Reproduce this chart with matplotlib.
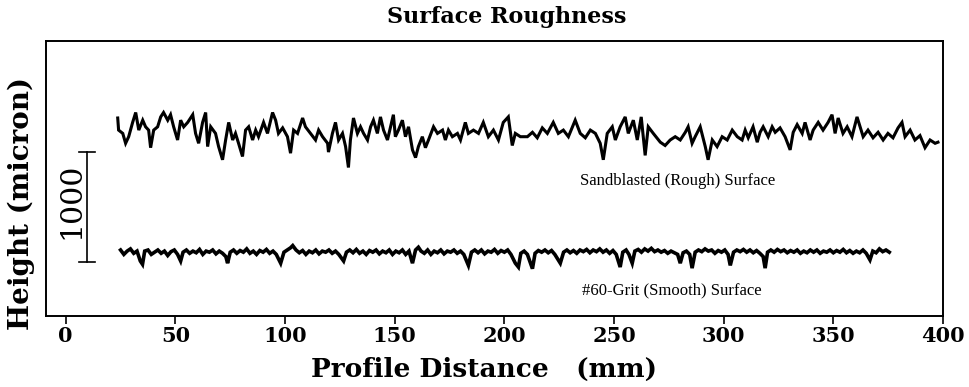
import matplotlib
matplotlib.use("Agg")
import matplotlib.pyplot as plt

# profile distance (mm) and height (micron)
rough_x = [23.7, 24.1, 26.0, 27.3, 28.7, 30.5, 31.9, 33.3, 35.1, 36.4, 37.8, 38.7, 40.1, 41.9, 43.3,
           44.6, 46.5, 47.8, 49.2, 51.0, 52.4, 53.8, 55.6, 57.9, 59.2, 60.6, 62.4, 63.8, 64.7, 66.1,
           68.3, 69.7, 71.5, 72.9, 74.3, 76.1, 77.4, 78.8, 80.6, 82.0, 83.4, 85.2, 86.6, 87.9, 90.2,
           92.0, 94.3, 95.7, 97.0, 98.9, 101.1, 102.5, 103.9, 105.7, 108.0, 109.3, 111.6, 113.9, 115.3,
           117.1, 119.4, 119.8, 121.6, 123.0, 124.4, 126.2, 127.6, 128.9, 129.8, 131.2, 133.0, 134.4,
           135.8, 137.6, 139.0, 140.3, 142.1, 143.5, 144.9, 146.7, 148.1, 149.4, 150.3, 151.7, 153.5,
           154.9, 156.3, 158.1, 159.5, 160.8, 162.6, 164.0, 165.4, 167.7, 169.5, 171.8, 173.1, 174.5,
           176.3, 178.6, 180.0, 182.2, 183.6, 185.9, 188.2, 190.4, 192.7, 195.0, 197.3, 199.5, 201.8,
           203.6, 205.0, 207.3, 210.5, 212.8, 215.0, 217.3, 219.6, 222.3, 224.6, 226.9, 229.2, 232.3,
           234.6, 236.9, 239.2, 241.5, 243.7, 245.1, 246.9, 249.2, 250.6, 252.8, 255.1, 256.5, 258.8,
           260.6, 262.4, 264.2, 265.6, 267.9, 271.1, 273.3, 275.6, 277.9, 280.2, 282.5, 283.8, 285.6,
           287.0, 289.3, 291.6, 292.9, 294.8, 297.0, 299.3, 301.6, 303.9, 306.2, 308.4, 309.8, 311.2,
           313.4, 315.3, 316.6, 318.0, 320.3, 322.1, 323.5, 325.7, 328.0, 330.3, 331.7, 333.5, 335.8,
           337.1, 339.4, 340.8, 343.1, 345.3, 347.6, 349.4, 350.8, 352.2, 354.4, 356.3, 358.5, 360.8,
           362.2, 363.6, 365.8, 368.1, 370.4, 372.7, 374.9, 377.2, 379.5, 381.3, 382.7, 385.0, 387.2,
           389.5, 391.8, 394.1, 396.4, 397.7]
rough_y = [1800, 1690, 1660, 1570, 1630, 1760, 1850, 1690, 1780, 1720, 1690, 1530, 1690, 1720, 1810,
           1850, 1780, 1830, 1720, 1600, 1780, 1720, 1760, 1830, 1660, 1570, 1760, 1850, 1540, 1720,
           1660, 1540, 1420, 1600, 1760, 1600, 1660, 1570, 1450, 1690, 1720, 1600, 1690, 1630, 1760,
           1660, 1850, 1780, 1660, 1710, 1630, 1480, 1690, 1660, 1800, 1720, 1660, 1600, 1690,
           1630, 1570, 1490, 1660, 1760, 1600, 1660, 1540, 1350, 1600, 1800, 1660, 1720,
           1660, 1600, 1720, 1780, 1660, 1810, 1690, 1600, 1720, 1830, 1630, 1690, 1780,
           1630, 1720, 1510, 1440, 1540, 1630, 1530, 1600, 1720, 1660, 1690, 1600, 1690,
           1630, 1660, 1600, 1760, 1660, 1690, 1660, 1760, 1630, 1690, 1600, 1760, 1810,
           1550, 1660, 1630, 1630, 1670, 1620, 1710, 1660, 1760, 1660, 1690, 1630, 1780,
           1660, 1620, 1690, 1660, 1570, 1420, 1660, 1720, 1600, 1720, 1810, 1660, 1780,
           1600, 1810, 1460, 1720, 1660, 1580, 1550, 1600, 1630, 1600, 1670, 1720, 1570,
           1630, 1720, 1540, 1420, 1600, 1540, 1630, 1600, 1690, 1630, 1600, 1690, 1620,
           1720, 1580, 1670, 1720, 1630, 1720, 1670, 1710, 1630, 1510, 1670, 1740, 1660,
           1760, 1600, 1690, 1760, 1690, 1760, 1830, 1660, 1800, 1660, 1720, 1630, 1810,
           1720, 1630, 1690, 1620, 1670, 1600, 1660, 1620, 1710, 1760, 1630, 1690, 1600,
           1640, 1530, 1600, 1570, 1580]

smooth_x = [25, 26.5, 28, 29.5, 31, 32.5, 34, 35, 36, 37.5, 39, 40.5, 42, 43.5, 45, 46.5, 48, 49.5,
            51, 52.4, 53.5, 55, 56.5, 58, 59.5, 61, 62.5, 64, 65.5, 67, 68.5, 70, 71.5, 73, 73.8, 75,
            76.5, 78, 79.5, 81, 82.5, 84, 85.5, 87, 88.5, 90, 91.5, 93, 94.5, 96, 98, 99.5, 101, 102.5,
            103.5, 105, 106.5, 108, 109.5, 111, 112.5, 114, 115.5, 117, 118.5, 120, 121.5, 123, 124.5,
            126.7, 128, 129.5, 131, 132.5, 134, 135.5, 137, 138.5, 140, 141.5, 143, 144.5, 146, 147.5,
            149, 150.5, 152, 153.5, 155, 156.5, 158.1, 159.5, 160.8, 162, 163.5, 165, 166.5, 168,
            169.5, 171, 172.5, 174, 175.5, 177, 178.5, 180, 181.5, 183.6, 185, 186.5, 188, 189.5, 191,
            192.5, 194, 195.5, 197, 198.5, 200, 201.5, 203, 205, 206.4, 207.5, 209, 210.5, 212.8, 214,
            215.5, 217, 218.5, 220, 221.5, 223, 225.5, 227, 228.5, 230, 231.5, 233, 234.5, 236, 237.5,
            239, 240.5, 242, 243.5, 245, 246.5, 248, 249.5, 251, 252.8, 254, 255.5, 256.8, 258.3,
            259.5, 261, 262.5, 264, 265.5, 267, 268.5, 270, 271.5, 273, 274.5, 276, 277.5, 279, 280.2,
            281.5, 283, 284.5, 285.6, 287, 288.5, 290, 291.5, 293, 294.5, 296, 297.5, 299, 300.5, 302,
            303, 304.5, 306, 307.5, 309, 310.5, 312, 313.5, 315, 316.5, 318, 318.9, 320, 321.5, 323,
            324.5, 326, 327.5, 329, 330.5, 332, 333.5, 335, 336.5, 338, 339.5, 341, 342.5, 344, 345.5,
            347, 348.5, 350, 351.5, 353, 354.5, 356, 357.5, 359, 360.5, 362, 363.5, 365, 366.7, 368,
            369.5, 371, 372.5, 374, 375.5]
smooth_y = [600, 560, 590, 610, 570, 590, 500, 470, 590, 600, 560, 580, 600, 570, 590, 550, 585, 600,
            560, 500, 580, 600, 570, 590, 575, 605, 560, 590, 580, 600, 565, 590, 570, 540, 480, 580,
            600, 570, 595, 580, 610, 570, 590, 560, 595, 580, 605, 570, 590, 560, 480, 580, 600, 620,
            640, 600, 575, 595, 560, 590, 575, 600, 565, 590, 580, 600, 570, 590, 560,
            500, 580, 600, 575, 605, 570, 590, 560, 595, 580, 600, 565, 590, 575, 600,
            560, 590, 575, 600, 560, 590, 480, 600, 625, 590, 570, 600, 560, 590,
            575, 600, 565, 590, 580, 600, 570, 590, 560, 460, 580, 600, 575, 600, 565,
            590, 580, 605, 570, 595, 580, 600, 560, 480, 445, 570, 590, 560, 430, 570,
            595, 580, 600, 575, 595, 560, 480, 580, 600, 575, 595, 570, 600, 585, 605,
            575, 600, 585, 610, 580, 600, 570, 595, 560, 445, 580, 600, 560, 480,
            590, 605, 580, 610, 590, 615, 585, 600, 580, 595, 570, 590, 575, 560, 480,
            575, 590, 560, 435, 580, 600, 585, 610, 590, 600, 570, 595, 580, 600, 560,
            460, 580, 600, 585, 605, 580, 600, 575, 595, 570, 540, 435, 580, 600, 580,
            605, 585, 600, 575, 595, 580, 600, 570, 590, 575, 600, 580, 600, 570, 590,
            580, 600, 575, 595, 580, 605, 575, 595, 570, 590, 575, 600, 570, 510, 590,
            575, 610, 585, 600, 580]

scale_x = 9.6          # mm, position of the 1000 micron scale bar
scale_y = [490, 1490]  # micron
xticks = [0, 50, 100, 150, 200, 250, 300, 350, 400]

fig = plt.figure(figsize=(9.69, 3.87), dpi=100)
ax = fig.add_axes([46 / 969, 1 - 316 / 387, (943 - 46) / 969, 275 / 387])

ax.plot(rough_x, rough_y, color="black", lw=2.2, solid_joinstyle="miter")
ax.plot(smooth_x, smooth_y, color="black", lw=2.6, solid_joinstyle="miter")

# scale bar
ax.plot([scale_x, scale_x], scale_y, color="black", lw=1.2)
ax.plot([scale_x - 3.6, scale_x + 3.6], [scale_y[0]] * 2, color="black", lw=1.2)
ax.plot([scale_x - 3.6, scale_x + 3.6], [scale_y[1]] * 2, color="black", lw=1.2)
ax.text(2.7, 1050, "1000", rotation=90, ha="center", va="center",
        family="DejaVu Serif", fontsize=21.5)

ax.text(234.6, 1227, "Sandblasted (Rough) Surface", ha="left", va="center",
        family="Liberation Serif", fontsize=12)
ax.text(235.5, 236, "#60-Grit (Smooth) Surface", ha="left", va="center",
        family="Liberation Serif", fontsize=12)

ax.set_xlim(-9, 400)
ax.set_ylim(0, 2500)
ax.set_xticks(xticks)
ax.set_xticklabels([str(t) for t in xticks], family="DejaVu Serif", fontweight="bold", fontsize=15)
ax.set_yticks([])
ax.tick_params(axis="x", direction="out", length=6, width=1.2, pad=1)
for s in ax.spines.values():
    s.set_linewidth(1.4)

fig.text(507 / 969, 1 - 17 / 387, "Surface Roughness", ha="center", va="center",
         family="DejaVu Serif", fontweight="bold", fontsize=16)
fig.text(484 / 969, 1 - 369 / 387, "Profile Distance   (mm)", ha="center", va="center",
         family="DejaVu Serif", fontweight="bold", fontsize=19)
fig.text(21 / 969, 1 - 204 / 387, "Height (micron)", ha="center", va="center", rotation=90,
         family="DejaVu Serif", fontweight="bold", fontsize=20)

fig.savefig("out.png", dpi=100)
